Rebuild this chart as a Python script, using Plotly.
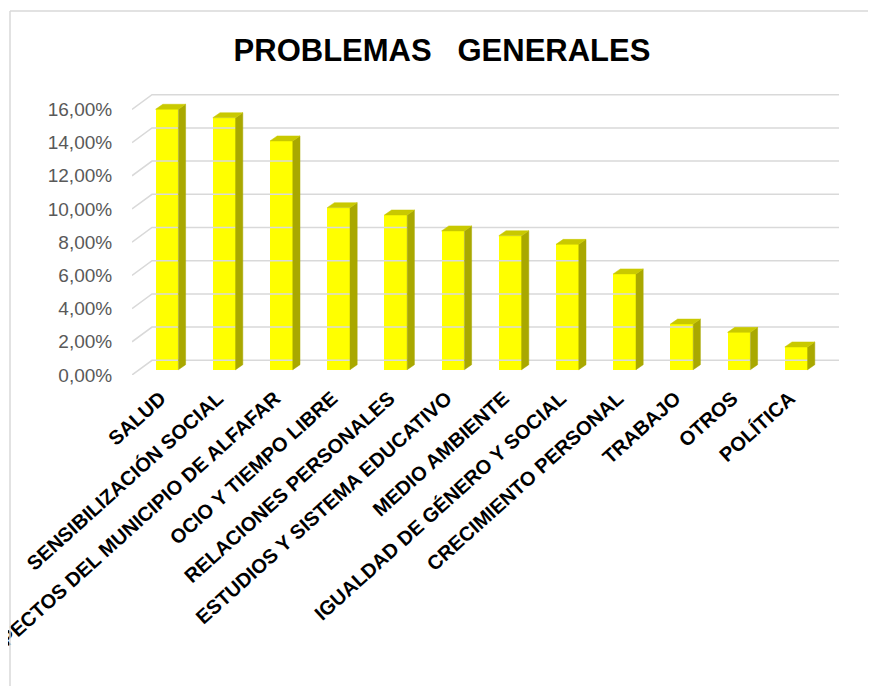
import plotly.graph_objects as go

# ---------------- data ----------------
categories = [
    "SALUD",
    "SENSIBILIZACIÓN SOCIAL",
    "ASPECTOS DEL MUNICIPIO DE ALFAFAR",
    "OCIO Y TIEMPO LIBRE",
    "RELACIONES PERSONALES",
    "ESTUDIOS Y SISTEMA EDUCATIVO",
    "MEDIO AMBIENTE",
    "IGUALDAD DE GÉNERO Y SOCIAL",
    "CRECIMIENTO PERSONAL",
    "TRABAJO",
    "OTROS",
    "POLÍTICA",
]
values = [15.69, 15.18, 13.78, 9.76, 9.32, 8.36, 8.07, 7.55, 5.77, 2.75, 2.25, 1.37]
y_ticks = [0, 2, 4, 6, 8, 10, 12, 14, 16]
y_tick_labels = ["0,00%", "2,00%", "4,00%", "6,00%", "8,00%",
                 "10,00%", "12,00%", "14,00%", "16,00%"]
title_text = "PROBLEMAS\u00a0\u00a0\u00a0GENERALES"

# ---------------- layout geometry (pixels) ----------------
W, H = 876, 686
OFF = 8                      # page body margin
ML = 132 - OFF
MT = 93 - OFF
PLOT_RIGHT = 839 - OFF
PLOT_BOTTOM = 375 - OFF
MR = W - PLOT_RIGHT
MB = H - PLOT_BOTTOM
PW, PH = W - ML - MR, H - MT - MB
PX_PER_CAT = 57.2       # px per category
PX_PER_PCT = 16.6       # px per percent

def dx(px):
    return px / PX_PER_CAT

def dy(px):
    return px / PX_PER_PCT

x_min = -0.5
x_max = x_min + PW / PX_PER_CAT
y_max = PH / PX_PER_PCT

# 3D depth parameters
wall_dx, wall_dy = dx(20), dy(14.7)     # back wall offset from front floor edge
bar_dx0, bar_dy0 = dx(6.4), dy(5.3)     # bar front-face offset
bar_w = dx(22.8)                        # bar front width
side_dx, side_dy = dx(7.2), dy(5.0)     # bar depth

grid_color = "#D9D9D9"
front_color = "#FFFF00"
top_color = "#C9C900"
side_color = "#A9A800"

fig = go.Figure()

# back-wall gridlines with diagonal floor-edge connectors
gx, gy = [], []
for v in y_ticks:
    gx += [x_min, x_min + wall_dx, x_max, None]
    gy += [v, v + wall_dy, v + wall_dy, None]
fig.add_trace(go.Scatter(x=gx, y=gy, mode="lines",
                         line=dict(color=grid_color, width=1.5),
                         hoverinfo="skip", showlegend=False, cliponaxis=False))

# front faces
xs = [i + bar_dx0 for i in range(len(categories))]
fig.add_trace(go.Bar(x=xs, y=values, base=bar_dy0, width=bar_w,
                     marker=dict(color=front_color, line=dict(width=0)),
                     showlegend=False, hovertext=categories))

# side and top faces
sx, sy, tx, ty = [], [], [], []
for xc, v in zip(xs, values):
    xl, xr = xc - bar_w / 2, xc + bar_w / 2
    y0, y1 = bar_dy0, bar_dy0 + v
    sx += [xr, xr + side_dx, xr + side_dx, xr, xr, None]
    sy += [y0, y0 + side_dy, y1 + side_dy, y1, y0, None]
    tx += [xl, xr, xr + side_dx, xl + side_dx, xl, None]
    ty += [y1, y1, y1 + side_dy, y1 + side_dy, y1, None]
fig.add_trace(go.Scatter(x=sx, y=sy, mode="lines", fill="toself",
                         fillcolor=side_color, line=dict(color=side_color, width=0.5),
                         hoverinfo="skip", showlegend=False, cliponaxis=False))
fig.add_trace(go.Scatter(x=tx, y=ty, mode="lines", fill="toself",
                         fillcolor=top_color, line=dict(color=top_color, width=0.5),
                         hoverinfo="skip", showlegend=False, cliponaxis=False))

def paper_x(px):
    return (px - ML) / PW

def paper_y(py):
    return (H - MB - py) / PH

fig.update_layout(
    template="none",
    width=W, height=H,
    margin=dict(l=ML, r=MR, t=MT, b=MB, pad=0),
    paper_bgcolor="white", plot_bgcolor="rgba(0,0,0,0)",
    bargap=0,
    title=dict(text="<b>" + title_text + "</b>",
               font=dict(family="Liberation Sans, Arial", size=31, color="black"),
               x=(442 - OFF) / W, xref="container", xanchor="center",
               y=1 - (50 - OFF) / H, yref="container", yanchor="middle"),
    xaxis=dict(range=[x_min, x_max], tickmode="array",
               tickvals=list(range(len(categories))), ticktext=categories,
               tickangle=-42, showgrid=False, zeroline=False, showline=False,
               ticks="outside", ticklen=3, tickcolor="rgba(0,0,0,0)",
               ticklabeloverflow="allow",
               tickfont=dict(family="Liberation Sans, Arial", size=20, color="black", weight="bold"),
               automargin=False, fixedrange=True),
    yaxis=dict(range=[0, y_max], tickmode="array", tickvals=y_ticks,
               ticktext=y_tick_labels, showgrid=False, zeroline=False, showline=False,
               ticks="outside", ticklen=15, tickcolor="rgba(0,0,0,0)",
               ticklabeloverflow="allow",
               tickfont=dict(family="Liberation Sans, Arial", size=19, color="#595959"),
               automargin=False, fixedrange=True),
    shapes=[
        dict(type="line", xref="paper", yref="paper",
             x0=paper_x(10 - OFF), x1=paper_x(W + 5), y0=paper_y(11 - OFF), y1=paper_y(11 - OFF),
             line=dict(color=grid_color, width=1.5)),
        dict(type="line", xref="paper", yref="paper",
             x0=paper_x(10 - OFF), x1=paper_x(10 - OFF), y0=paper_y(11 - OFF), y1=paper_y(H + 5),
             line=dict(color=grid_color, width=1.5)),
    ],
)

fig.write_html("out.html")
